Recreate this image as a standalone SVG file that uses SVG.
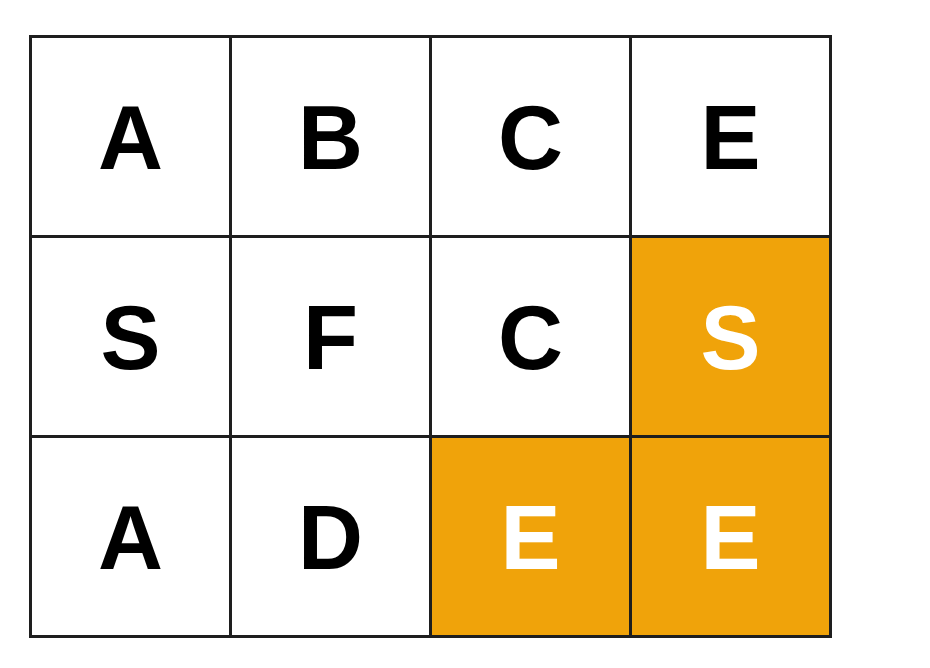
<svg xmlns="http://www.w3.org/2000/svg" width="930" height="668" viewBox="0 0 930 668">
<style>
.c{stroke:#1e1e1e;stroke-width:3}
.w{fill:#ffffff}
.o{fill:#f0a30a}
text{font-family:"Liberation Sans",Arial,sans-serif;font-weight:bold;font-size:90px;text-anchor:middle}
.tb{fill:#000000}
.tw{fill:#ffffff}
</style>
<rect width="930" height="668" fill="#ffffff"/>
<g id="r0c0"><rect class="c w" x="30.5" y="36.5" width="200" height="200"/><text class="tb" x="130.5" y="168.5">A</text></g>
<g id="r0c1"><rect class="c w" x="230.5" y="36.5" width="200" height="200"/><text class="tb" x="330.5" y="168.5">B</text></g>
<g id="r0c2"><rect class="c w" x="430.5" y="36.5" width="200" height="200"/><text class="tb" x="530.5" y="168.5">C</text></g>
<g id="r0c3"><rect class="c w" x="630.5" y="36.5" width="200" height="200"/><text class="tb" x="730.5" y="168.5">E</text></g>
<g id="r1c0"><rect class="c w" x="30.5" y="236.5" width="200" height="200"/><text class="tb" x="130.5" y="368.5">S</text></g>
<g id="r1c1"><rect class="c w" x="230.5" y="236.5" width="200" height="200"/><text class="tb" x="330.5" y="368.5">F</text></g>
<g id="r1c2"><rect class="c w" x="430.5" y="236.5" width="200" height="200"/><text class="tb" x="530.5" y="368.5">C</text></g>
<g id="r1c3"><rect class="c o" x="630.5" y="236.5" width="200" height="200"/><text class="tw" x="730.5" y="368.5">S</text></g>
<g id="r2c0"><rect class="c w" x="30.5" y="436.5" width="200" height="200"/><text class="tb" x="130.5" y="568.5">A</text></g>
<g id="r2c1"><rect class="c w" x="230.5" y="436.5" width="200" height="200"/><text class="tb" x="330.5" y="568.5">D</text></g>
<g id="r2c2"><rect class="c o" x="430.5" y="436.5" width="200" height="200"/><text class="tw" x="530.5" y="568.5">E</text></g>
<g id="r2c3"><rect class="c o" x="630.5" y="436.5" width="200" height="200"/><text class="tw" x="730.5" y="568.5">E</text></g>
<g id="connectors"></g>
</svg>
